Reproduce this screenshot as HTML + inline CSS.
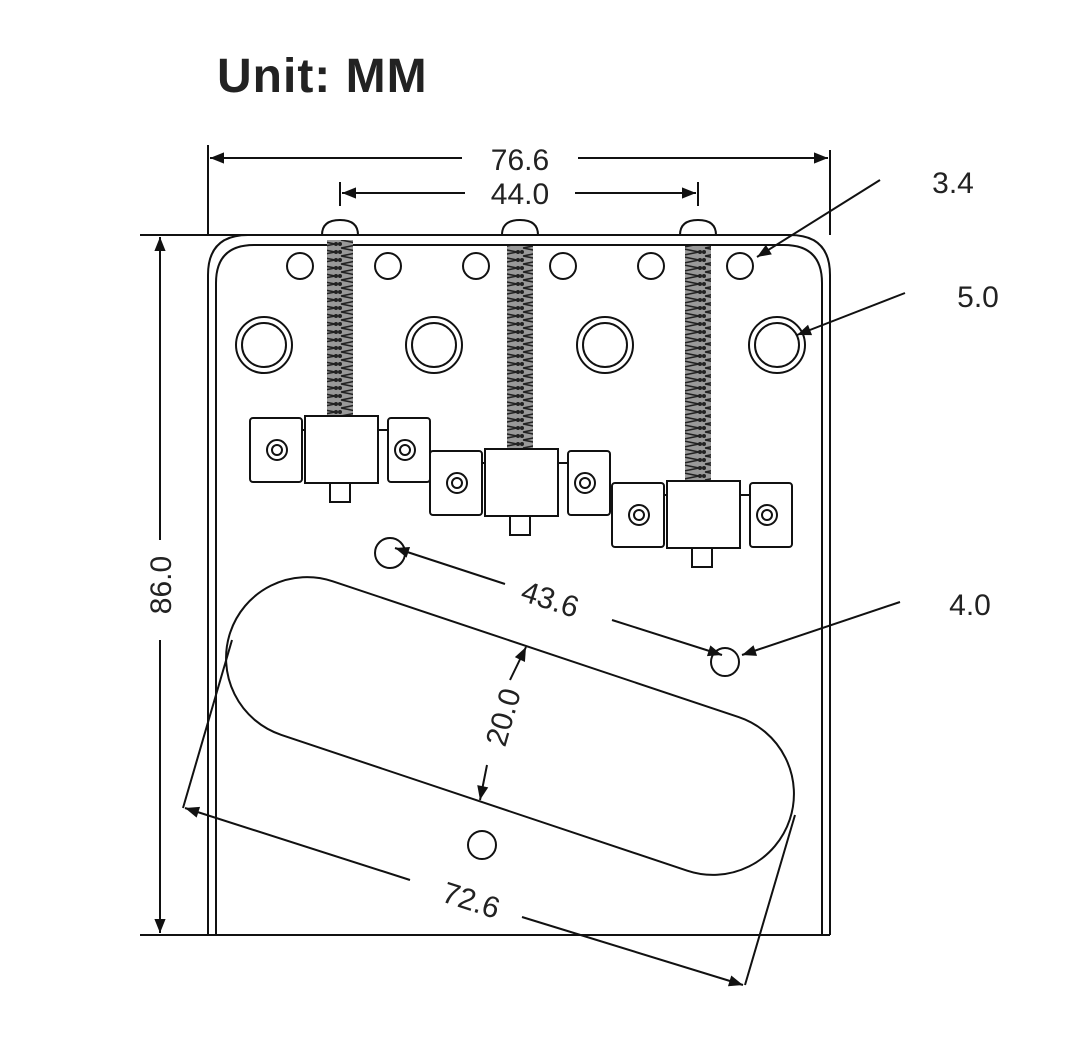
<!DOCTYPE html>
<html><head><meta charset="utf-8"><style>html,body{margin:0;padding:0;background:#fff}svg{display:block}</style></head>
<body>
<svg width="1080" height="1055" viewBox="0 0 1080 1055" xmlns="http://www.w3.org/2000/svg" font-family="Liberation Sans, sans-serif">
<defs>
<marker id="a" viewBox="0 0 10 10" refX="10" refY="5" markerWidth="9" markerHeight="7" orient="auto-start-reverse"><path d="M0,1 L10,5 L0,9z" fill="#111"/></marker>
<pattern id="sp" width="26" height="8" patternUnits="userSpaceOnUse">
<rect width="26" height="8" fill="#999"/>
<path d="M3,0 L23,4 L3,8" stroke="#222" stroke-width="1.6" fill="none"/>
<circle cx="2" cy="4" r="2" fill="#222"/><circle cx="24" cy="4" r="2" fill="#222"/>
</pattern>
</defs>
<text x="217" y="92" font-size="48" font-weight="bold" fill="#222" letter-spacing="1">Unit: MM</text>
<g stroke="#111" fill="none" stroke-width="2">
<path d="M140,235 H790 Q830,235 830,275 V935"/>
<path d="M208,935 V275 Q208,235 248,235"/>
<path d="M216,935 V283 Q216,245 254,245 H784 Q822,245 822,283 V935"/>
<line x1="140" y1="935" x2="830" y2="935"/>
<line x1="208" y1="145" x2="208" y2="235"/>
<line x1="830" y1="150" x2="830" y2="235"/>
<line x1="340" y1="182" x2="340" y2="206"/>
<line x1="698" y1="182" x2="698" y2="206"/>
<line x1="210" y1="158" x2="462" y2="158" marker-start="url(#a)"/>
<line x1="578" y1="158" x2="828" y2="158" marker-end="url(#a)"/>
<line x1="342" y1="193" x2="465" y2="193" marker-start="url(#a)"/>
<line x1="575" y1="193" x2="696" y2="193" marker-end="url(#a)"/>
<line x1="160" y1="237" x2="160" y2="540" marker-start="url(#a)"/>
<line x1="160" y1="640" x2="160" y2="933" marker-end="url(#a)"/>
<circle cx="300" cy="266" r="13"/><circle cx="388" cy="266" r="13"/><circle cx="476" cy="266" r="13"/><circle cx="563" cy="266" r="13"/><circle cx="651" cy="266" r="13"/><circle cx="740" cy="266" r="13"/>
<circle cx="264" cy="345" r="28"/><circle cx="264" cy="345" r="22"/>
<circle cx="434" cy="345" r="28"/><circle cx="434" cy="345" r="22"/>
<circle cx="605" cy="345" r="28"/><circle cx="605" cy="345" r="22"/>
<circle cx="777" cy="345" r="28"/><circle cx="777" cy="345" r="22"/>
<circle cx="390" cy="553" r="15"/><circle cx="725" cy="662" r="14"/><circle cx="482" cy="845" r="14"/>
<path d="M322,235 Q322,220 340,220 Q358,220 358,235"/>
<path d="M502,235 Q502,220 520,220 Q538,220 538,235"/>
<path d="M680,235 Q680,220 698,220 Q716,220 716,235"/>
</g>
<rect x="327" y="240" width="26" height="176" fill="url(#sp)"/>
<rect x="507" y="246" width="26" height="204" fill="url(#sp)"/>
<rect x="685" y="246" width="26" height="236" fill="url(#sp)"/>
<g stroke="#111" stroke-width="2" fill="#fff">
<g id="s1">
<rect x="250" y="418" width="52" height="64" rx="3"/>
<rect x="305" y="416" width="73" height="67"/>
<rect x="388" y="418" width="42" height="64" rx="3"/>
<line x1="302" y1="430" x2="305" y2="430"/><line x1="378" y1="430" x2="388" y2="430"/>
<rect x="330" y="483" width="20" height="19"/>
<circle cx="277" cy="450" r="10"/><circle cx="277" cy="450" r="5"/>
<circle cx="405" cy="450" r="10"/><circle cx="405" cy="450" r="5"/>
</g>
<use href="#s1" x="180" y="33"/>
<use href="#s1" x="362" y="65"/>
</g>
<g stroke="#111" stroke-width="2" fill="none">
<rect x="-295" y="-81" width="590" height="162" rx="81" transform="translate(510,726) rotate(18.5)"/>
<line x1="183" y1="808" x2="232" y2="640"/>
<line x1="745" y1="985" x2="795" y2="815"/>
<line x1="185" y1="808" x2="410" y2="880" marker-start="url(#a)"/>
<line x1="522" y1="917" x2="743" y2="985" marker-end="url(#a)"/>
<line x1="395" y1="548" x2="505" y2="584" marker-start="url(#a)"/>
<line x1="612" y1="620" x2="722" y2="655" marker-end="url(#a)"/>
<line x1="510" y1="680" x2="526" y2="647" marker-end="url(#a)"/>
<line x1="487" y1="765" x2="480" y2="800" marker-end="url(#a)"/>
<line x1="880" y1="180" x2="757" y2="257" marker-end="url(#a)"/>
<line x1="905" y1="293" x2="797" y2="335" marker-end="url(#a)"/>
<line x1="900" y1="602" x2="742" y2="655" marker-end="url(#a)"/>
</g>
<g font-size="30" fill="#222" text-anchor="middle">
<text x="520" y="170">76.6</text>
<text x="520" y="204">44.0</text>
<text x="953" y="193">3.4</text>
<text x="978" y="307">5.0</text>
<text x="970" y="615">4.0</text>
<text transform="translate(171,585) rotate(-90)">86.0</text>
<text transform="translate(547,609) rotate(18)">43.6</text>
<text transform="translate(468,910) rotate(18)">72.6</text>
<text transform="translate(513,720) rotate(-74)">20.0</text>
</g>
</svg>
</body></html>
